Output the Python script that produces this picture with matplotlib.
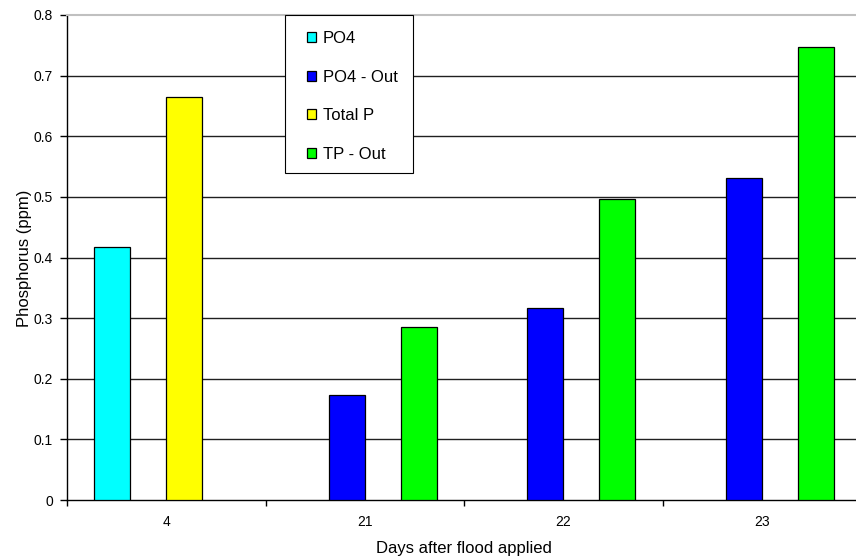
import numpy as np
import matplotlib
matplotlib.use("Agg")
import matplotlib.pyplot as plt
from matplotlib.patches import Rectangle

plt.rcParams['font.family'] = ['Liberation Sans', 'DejaVu Sans']

# data
days = ["4", "21", "22", "23"]
series_names = ["PO4", "PO4 - Out", "Total P", "TP - Out"]
po4 = [0.418, np.nan, np.nan, np.nan]
po4_out = [np.nan, 0.173, 0.316, 0.531]
total_p = [0.664, np.nan, np.nan, np.nan]
tp_out = [np.nan, 0.286, 0.496, 0.747]
colors = ["#00FFFF", "#0000FF", "#FFFF00", "#00FF00"]

yticks = [0, 0.1, 0.2, 0.3, 0.4, 0.5, 0.6, 0.7, 0.8]
ytick_labels = ["0", "0.1", "0.2", "0.3", "0.4", "0.5", "0.6", "0.7", "0.8"]

W, H = 856, 560
fig = plt.figure(figsize=(W / 100, H / 100), dpi=100)
# plot area runs a bit past the right edge, like the original
ax = fig.add_axes([67 / W, 60 / H, 794 / W, 485 / H])

x = np.arange(len(days))
w = 1 / 5.5  # excel style gap width 150%
all_series = [po4, po4_out, total_p, tp_out]
for i, (vals, name, c) in enumerate(zip(all_series, series_names, colors)):
    ax.bar(x + (i - 1.5) * w, vals, width=w, color=c, edgecolor='black',
           linewidth=0.9, label=name, zorder=3)

ax.set_xlim(-0.5, len(days) - 0.5)
ax.set_ylim(0, 0.8)

# gridlines
for yv in yticks[1:-1]:
    ax.axhline(yv, color='#202020', linewidth=1, zorder=1)

ax.set_yticks(yticks)
ax.set_yticklabels(ytick_labels, fontsize=10)
ax.set_xticks(x)
ax.set_xticklabels(days, fontsize=10)
ax.tick_params(axis='x', which='major', length=0, pad=11)
ax.set_xticks(np.arange(-0.5, len(days)), minor=True)
ax.tick_params(axis='x', which='minor', length=4, width=1, direction='out')
ax.tick_params(axis='y', length=5, width=1, direction='out', pad=5)

ax.spines['right'].set_visible(False)
ax.spines['top'].set_color('#c0c0c0')
ax.spines['top'].set_linewidth(1.5)
ax.spines['left'].set_linewidth(1)
ax.spines['bottom'].set_linewidth(1)

fig.text(25 / W, 1 - 258 / H, "Phosphorus (ppm)", rotation=90, fontsize=12,
         ha='center', va='center')
fig.text(464 / W, 1 - 548 / H, "Days after flood applied", fontsize=12,
         ha='center', va='center')

# legend box drawn separately so the padding matches
ax.add_patch(Rectangle(((285 - 67) / 794, (500 - 173) / 485),
                       (413 - 285) / 794, (173 - 15) / 485,
                       transform=ax.transAxes, facecolor='white',
                       edgecolor='black', linewidth=0.8, zorder=5,
                       clip_on=False))
leg = ax.legend(loc='upper left',
                bbox_to_anchor=((307 - 67) / 794, (500 - 31) / 485),
                borderaxespad=0, borderpad=0, fontsize=12, frameon=False,
                handlelength=0.55, handleheight=0.55, handletextpad=0.4,
                labelspacing=1.42)
leg.set_zorder(6)

fig.savefig("out.png", dpi=100)
